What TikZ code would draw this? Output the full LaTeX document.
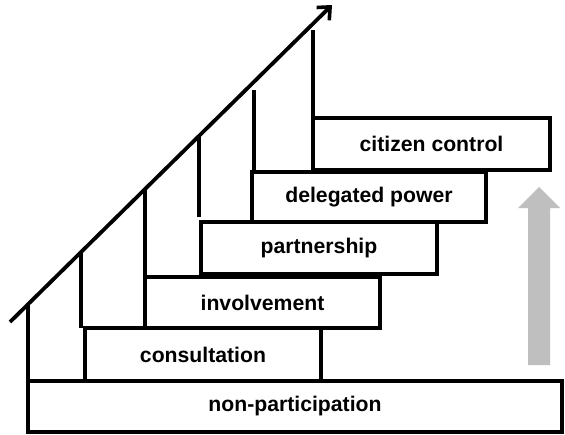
\documentclass[tikz,border=0pt]{standalone}
\usepackage{fontspec}
\setmainfont{Liberation Sans}
\usetikzlibrary{arrows.meta}
\begin{document}
\begin{tikzpicture}[x=1pt,y=-1pt,
  stepbox/.style={draw=black,line width=3.2pt,fill=white,inner sep=0pt,font=\fontsize{21.2}{25}\selectfont\bfseries},
  riser/.style={line width=3.2pt},
  ladder/.style={line width=3.8pt,-{Straight Barb[length=10pt,width=18pt,line width=3.6pt]}}]
\useasboundingbox (0,0) rectangle (565,434);
\fill[white] (0,0) rectangle (565,434);
% risers and diagonal first
\coordinate (d0) at (10,322);
\coordinate (d1) at (332,5);
\coordinate (v0t) at (28,303);  \coordinate (v0b) at (28,381);
\coordinate (v1t) at (81,252);  \coordinate (v1b) at (81,328);
\coordinate (v2t) at (145,190); \coordinate (v2b) at (145,277);
\coordinate (v3t) at (199,137); \coordinate (v3b) at (199,217);
\coordinate (v4t) at (254,90);  \coordinate (v4b) at (254,172);
\coordinate (v5t) at (313,30);  \coordinate (v5b) at (313,118);
\draw[ladder] (d0) -- (d1);
\foreach \i in {0,...,5} \draw[riser] (v\i t) -- (v\i b);
% steps
\node[stepbox,minimum width=534pt,minimum height=51pt] (np) at (295,406.5) {non-participation};
\node[stepbox,minimum width=236pt,minimum height=53pt] (cons) at (203,354.5) {consultation};
\node[stepbox,minimum width=235pt,minimum height=51pt] (inv) at (262.5,302.5) {involvement};
\node[stepbox,minimum width=236pt,minimum height=52pt] (part) at (319,248) {partnership};
\node[stepbox,minimum width=234pt,minimum height=50pt] (del) at (369,197) {delegated power};
\node[stepbox,minimum width=237pt,minimum height=52pt] (cit) at (431.5,144) {citizen control};
% gray arrow
\fill[black!25] (528,365) -- (550,365) -- (550,208) -- (560,208) -- (539,187) -- (518,208) -- (528,208) -- cycle;
\end{tikzpicture}
\end{document}
